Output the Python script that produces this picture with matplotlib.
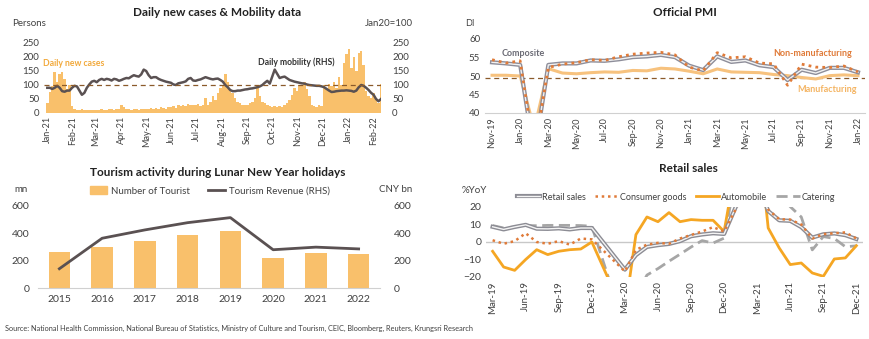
import numpy as np
import pandas as pd
import matplotlib
matplotlib.use("Agg")
import matplotlib.pyplot as plt
import matplotlib.dates as mdates
from matplotlib.lines import Line2D
from matplotlib.patches import Patch

plt.rcParams['font.family'] = ['Lato', 'DejaVu Sans']
plt.rcParams['font.size'] = 7

# ---- data: daily new cases & mobility (sampled every 3 days from 1 Jan 2021)
cases = [35, 75, 95, 148, 110, 140, 145, 120, 85, 100, 25,
         15, 12, 10, 14, 10, 12, 9, 11, 10,
         12, 10, 14, 12, 11, 15, 13, 12, 15, 14,
         30, 22, 15, 14, 12, 16, 14, 12, 15, 13,
         16, 14, 18, 15, 17, 14, 20, 18, 16, 22,
         20, 25, 18, 28, 24, 30, 26, 32, 28, 30,
         28, 32, 26, 30, 55, 28, 40, 60, 45, 70, 90,
         100, 140, 110, 85, 70, 55, 40, 35, 30, 28,
         30, 35, 40, 55, 95, 60, 40, 35, 28, 25,
         22, 25, 20, 24, 20, 28, 35, 45,
         65, 90, 80, 100, 95, 110, 85, 60,
         30, 25, 20, 30, 25,
         100, 85, 105, 95, 110, 90, 130, 100,
         180, 210, 230, 160, 200, 150, 215, 220, 170,
         80, 60, 55, 70, 45, 35, 105]
mobility = [90, 90, 86, 90, 97, 90, 78, 76, 80, 80,
            90, 97, 95, 80, 65, 72, 90, 102, 112, 115,
            110, 118, 122, 118, 122, 120, 116, 122, 120, 115,
            118, 122, 125, 124, 130, 135, 132, 130, 138, 155,
            150, 135, 125, 128, 128, 122, 118, 115, 112, 110,
            108, 102, 100, 106, 108, 110, 113, 122, 125, 116,
            115, 118, 120, 124, 128, 125, 122, 120, 122, 123,
            118, 112, 100, 92, 82, 78, 78, 80, 80, 82,
            84, 85, 87, 88, 90, 92, 95, 100, 108, 115,
            105, 130, 155, 140, 125, 128, 130, 124, 118, 115,
            112, 110, 108, 106, 105, 102, 100, 99, 98, 97,
            97, 95, 92, 86, 80, 75, 76, 78, 79, 80,
            80, 81, 80, 79, 76, 80, 92, 100, 97, 90,
            82, 72, 65, 50, 42, 50]

# ---- data: official PMI, Nov-19 .. Jan-22
pmi_mfg = [50.2, 50.2, 50.0, 35.7, 52.0, 50.8, 50.6, 50.9, 51.1, 51.0, 51.5, 51.4, 52.1,
           51.9, 51.3, 50.6, 51.9, 51.1, 51.0, 50.9, 50.4, 50.1, 49.6, 49.2, 50.1, 50.3, 50.1]
pmi_nonmfg = [54.4, 53.5, 54.1, 29.6, 52.3, 53.2, 53.6, 54.4, 54.2, 55.2, 55.9, 56.2, 56.4,
              55.7, 52.4, 51.4, 56.3, 54.9, 55.2, 53.5, 53.3, 47.5, 53.2, 52.4, 52.3, 52.7, 51.1]
pmi_comp = [53.7, 53.4, 53.0, 28.9, 53.0, 53.4, 53.4, 54.2, 54.1, 54.5, 55.1, 55.3, 55.7,
            55.1, 52.8, 51.6, 55.3, 53.8, 54.2, 52.9, 52.4, 48.9, 51.7, 50.8, 52.2, 52.2, 51.0]

# ---- data: tourism during Lunar New Year
years = ['2015', '2016', '2017', '2018', '2019', '2020', '2021', '2022']
tourists = [260, 302, 344, 386, 415, 222, 256, 251]
revenue = [141, 364, 425, 478, 515, 280, 299, 286]

# ---- data: retail sales %YoY, Mar-19 .. Dec-21
nan = np.nan
retail = [8.7, 7.2, 8.6, 9.8, 7.6, 7.5, 7.8, 7.2, 8.0, 8.0, nan, nan, -15.8, -7.5, -2.8, -1.8,
          -1.1, 0.5, 3.3, 4.3, 5.0, 4.6, nan, 33.8, 34.2, 17.7, 12.4, 12.1, 8.5, 2.5, 4.4, 4.9, 3.9, 1.7]
consumer = [1.0, -1.0, 0.5, 5.0, 0.0, -1.0, 0.5, -1.5, 2.0, 1.5, nan, nan, -16.8, -4.5, -1.5, -0.5,
            -1.0, 2.0, 4.0, 6.0, 8.5, 6.0, nan, 30.0, 32.0, 18.5, 13.0, 12.8, 10.0, 2.0, 4.5, 5.0, 5.5, 2.0]
auto = [-5.3, -14.3, -16.2, -10.0, -4.4, -7.2, -5.3, -4.4, -4.0, 0.0, nan, -28.0, -40.0, 4.2, 14.3, 11.6,
        16.8, 11.6, 12.8, 12.4, 12.4, 6.0, nan, 77.0, 69.0, 8.0, -3.4, -12.9, -12.0, -17.7, -19.6, -9.7, -9.1, -2.1]
catering = [9.4, 8.0, 8.6, 9.4, 9.3, 9.5, 9.5, 9.5, 9.4, 9.0, nan, -30.0, -46.8, -31.1, -18.9, -15.2,
            -11.0, -7.0, -2.9, 0.8, -0.6, 2.2, nan, 68.9, 91.6, 46.4, 26.6, 20.2, 14.3, -4.5, 3.1, 2.0, -2.7, -2.2]

source = ("Source: National Health Commission, National Bureau of Statistics, Ministry of Culture and Tourism, "
          "CEIC, Bloomberg, Reuters, Krungsri Research")

W, H = 870, 339
TXT = '#404040'
ORANGE = '#F9C06B'
DARK = '#5a5152'

fig = plt.figure(figsize=(W / 100, H / 100), dpi=100)


def box(l, r, t, b):
    return [l / W, 1 - b / H, (r - l) / W, (b - t) / H]


def ftext(x, y, s, **kw):
    fig.text(x / W, 1 - y / H, s, va='center', **kw)


def clean(ax):
    for s in ax.spines.values():
        s.set_visible(False)
    ax.tick_params(length=0, colors=TXT, labelsize=7)


# ---------------- panel 1
ax1 = fig.add_axes(box(44, 381, 43, 113))
dates = pd.date_range('2021-01-01', periods=len(cases), freq='3D')
ax1.bar(dates, cases, width=3, color=ORANGE, linewidth=0)
ax1.set_ylim(0, 250)
ax1.set_yticks(range(0, 251, 50))
ax1.set_xlim(pd.Timestamp('2020-12-28'), pd.Timestamp('2022-02-10'))
ax1.xaxis.set_major_locator(mdates.MonthLocator())
ax1.xaxis.set_major_formatter(mdates.DateFormatter('%b-%y'))
clean(ax1)
ax1.tick_params(axis='x', labelrotation=90, labelsize=6.5, pad=2)
ax1b = ax1.twinx()
ax1b.plot(dates, mobility, color=DARK, lw=1.8)
ax1b.axhline(100, color='#8B5A2B', lw=0.9, ls=(0, (4, 3)))
ax1b.set_ylim(0, 250)
ax1b.set_yticks(range(0, 251, 50))
clean(ax1b)
ax1b.tick_params(axis='y', pad=8)
ftext(217, 12, 'Daily new cases & Mobility data', ha='center', fontsize=8.5, fontweight='bold', color='#222222')
ftext(12, 24, 'Persons', fontsize=7, color=TXT)
ftext(413, 24, 'Jan20=100', ha='right', fontsize=7, color=TXT)
ftext(43, 63, 'Daily new cases', fontsize=6.2, fontweight='bold', color='#F2A93B')
ftext(258, 62, 'Daily mobility (RHS)', fontsize=6.2, fontweight='bold', color='#333333')

# ---------------- panel 2
ax2 = fig.add_axes(box(485, 865, 39, 113))
xm = np.arange(len(pmi_comp))
ax2.plot(xm, pmi_mfg, color='#F7C27E', lw=2.2, zorder=2)
ax2.plot(xm, pmi_comp, color='#8E8E9A', lw=3.0, zorder=3)
ax2.plot(xm, pmi_comp, color='#F2F2F2', lw=1.0, zorder=4)
ax2.plot(xm, pmi_nonmfg, color='#E07B39', lw=2.0, ls=(0, (1, 1.5)), zorder=5)
ax2.axhline(49.4, color='#8B5A2B', lw=0.9, ls=(0, (4, 3)), zorder=1)
ax2.set_ylim(40, 60)
ax2.set_yticks(range(40, 61, 5))
ax2.set_xlim(-0.5, len(pmi_comp) - 0.5)
pmi_months = pd.date_range('2019-11-01', periods=len(pmi_comp), freq='MS').strftime('%b-%y')
ax2.set_xticks(xm[::2])
ax2.set_xticklabels(pmi_months[::2])
clean(ax2)
ax2.spines['bottom'].set_visible(True)
ax2.spines['bottom'].set_color('#d0d0d0')
ax2.tick_params(axis='x', labelrotation=90, labelsize=6.5, pad=3)
ftext(685, 12, 'Official PMI', ha='center', fontsize=8.5, fontweight='bold', color='#222222')
ftext(465, 24, 'DI', fontsize=6.5, color=TXT)
ftext(502, 53, 'Composite', fontsize=6.5, fontweight='bold', color='#6b6b75')
ftext(852, 54, 'Non-manufacturing', ha='right', fontsize=6.5, fontweight='bold', color='#E07B39')
ftext(857, 90, 'Manufacturing', ha='right', fontsize=6.5, fontweight='bold', color='#F4B462')

# ---------------- panel 3
ax3 = fig.add_axes(box(38, 380, 206, 288))
xc = np.arange(len(years))
ax3.bar(xc, tourists, width=0.5, color=ORANGE, zorder=2)
ax3.set_ylim(0, 600)
ax3.set_yticks(range(0, 601, 200))
ax3.set_xlim(-0.5, len(years) - 0.5)
ax3.set_xticks(xc)
ax3.set_xticklabels(years)
clean(ax3)
ax3.spines['bottom'].set_visible(True)
ax3.spines['bottom'].set_color('#d0d0d0')
ax3.tick_params(axis='x', pad=5, labelsize=7.5)
ax3.tick_params(axis='y', labelsize=7.5, pad=6)
ax3b = ax3.twinx()
ax3b.plot(xc, revenue, color=DARK, lw=2)
ax3b.set_ylim(0, 600)
ax3b.set_yticks(range(0, 601, 200))
clean(ax3b)
ax3b.tick_params(axis='y', labelsize=7.5, pad=10)
ftext(218, 172, 'Tourism activity during Lunar New Year holidays', ha='center', fontsize=8.5,
      fontweight='bold', color='#222222')
ftext(14, 189, 'mn', fontsize=7, color=TXT)
ftext(412, 189, 'CNY bn', ha='right', fontsize=7, color=TXT)
fig.legend([Patch(color=ORANGE), Line2D([], [], color=DARK, lw=2)],
           ['Number of Tourist', 'Tourism Revenue (RHS)'],
           loc='center', bbox_to_anchor=(210 / W, 1 - 191 / H), ncol=2, frameon=False,
           fontsize=7, handlelength=1.8, handleheight=0.8, handletextpad=0.4,
           columnspacing=1.8, labelcolor=TXT)

# ---------------- panel 4
ax4 = fig.add_axes(box(486, 863, 207, 277))
xr = np.arange(len(retail))


def plot_gap(ax, y, **kw):
    y = np.asarray(y, dtype=float)
    ok = ~np.isnan(y)
    return ax.plot(xr[ok], y[ok], **kw)


ax4.axhline(0, color='#c8c8c8', lw=1, zorder=1)
plot_gap(ax4, catering, color='#A6A6A6', lw=2, ls=(0, (4, 2)), zorder=2)
plot_gap(ax4, auto, color='#F5A623', lw=2, zorder=3)
plot_gap(ax4, retail, color='#8C8C94', lw=3, zorder=4)
plot_gap(ax4, retail, color='#F4F4F4', lw=1, zorder=5)
plot_gap(ax4, consumer, color='#E07B39', lw=1.8, ls=(0, (1, 1.5)), zorder=6)
ax4.set_ylim(-20, 20)
ax4.set_yticks(range(-20, 21, 10))
ax4.set_xlim(-0.6, len(retail) - 0.4)
rs_months = pd.date_range('2019-03-01', periods=len(retail), freq='MS').strftime('%b-%y')
ax4.set_xticks(xr[::3])
ax4.set_xticklabels(rs_months[::3])
clean(ax4)
ax4.tick_params(axis='x', labelrotation=90, labelsize=7, pad=3)
ax4.tick_params(axis='y', labelsize=7.5)
ftext(688, 169, 'Retail sales', ha='center', fontsize=8.5, fontweight='bold', color='#222222')
ftext(462, 191, '%YoY', fontsize=7, color=TXT)
h_retail = (Line2D([], [], color='#8C8C94', lw=3), Line2D([], [], color='#F4F4F4', lw=1))
h_cons = Line2D([], [], color='#E07B39', lw=1.8, ls=(0, (1, 1.5)))
h_auto = Line2D([], [], color='#F5A623', lw=2)
h_cat = Line2D([], [], color='#A6A6A6', lw=2, ls=(0, (4, 2)))
fig.legend([h_retail, h_cons, h_auto, h_cat], ['Retail sales', 'Consumer goods', 'Automobile', 'Catering'],
           loc='center', bbox_to_anchor=(676 / W, 1 - 197 / H), ncol=4, frameon=False,
           fontsize=6.5, handlelength=2.6, columnspacing=1.0, handletextpad=0.2, labelcolor=TXT)

ftext(5, 328, source, fontsize=5.3, color=TXT)

fig.savefig('out.png', dpi=100, facecolor='white')
